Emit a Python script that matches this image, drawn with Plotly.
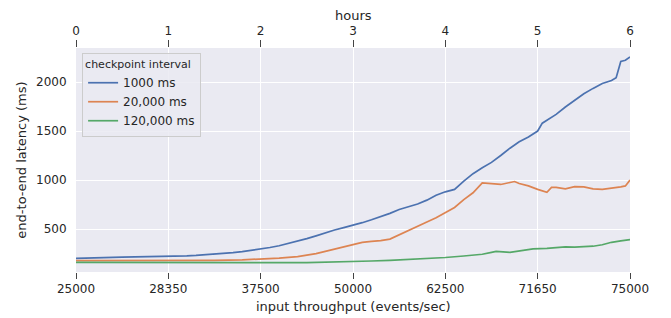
import plotly.graph_objects as go

# ---- data ----
x_tick_hours = [0, 1, 2, 3, 4, 5, 6]
x_tick_labels = ["25000", "28350", "37500", "50000", "62500", "71650", "75000"]

hours_1000 = [0.0, 0.1, 0.2, 0.3, 0.4, 0.5, 0.6, 0.7, 0.8, 0.9, 1.0, 1.1, 1.2, 1.3, 1.4,
              1.5, 1.6, 1.7, 1.8, 1.9, 2.0, 2.1, 2.2, 2.3, 2.4, 2.5, 2.6, 2.7, 2.8, 2.9,
              3.0, 3.1, 3.2, 3.3, 3.4, 3.5, 3.6, 3.7, 3.8, 3.9, 4.0, 4.1, 4.2, 4.3, 4.4,
              4.5, 4.6, 4.7, 4.8, 4.9, 5.0, 5.05, 5.1, 5.2, 5.3, 5.4, 5.5, 5.6, 5.7, 5.8,
              5.85, 5.9, 5.95, 6.0]
lat_1000 = [200, 203, 212, 212, 212, 213, 214, 215, 216, 218, 220, 222, 226, 231, 237,
            244, 252, 260, 270, 282, 295, 312, 330, 352, 378, 402, 430, 462, 490, 515,
            538, 565, 595, 625, 660, 700, 730, 755, 795, 845, 880, 905, 990, 1065, 1125,
            1180, 1250, 1325, 1390, 1440, 1500, 1580, 1610, 1670, 1745, 1810, 1880, 1935, 1985, 2015,
            2045, 2210, 2222, 2255]

hours_20000 = [0.0, 0.5, 1.0, 1.5, 1.8, 2.0, 2.2, 2.4, 2.6, 2.8, 3.0, 3.1, 3.2, 3.3, 3.4,
               3.5, 3.6, 3.7, 3.8, 3.9, 4.0, 4.1, 4.2, 4.3, 4.4, 4.5, 4.6, 4.7, 4.75, 4.8,
               4.9, 5.0, 5.1, 5.15, 5.2, 5.3, 5.4, 5.5, 5.6, 5.7, 5.8, 5.9, 5.95, 6.0]
lat_20000 = [178, 177, 177, 180, 186, 193, 203, 218, 250, 295, 340, 365, 375, 382, 398,
             440, 480, 525, 572, 615, 665, 720, 800, 870, 970, 965, 955, 975, 985, 965,
             940, 905, 875, 925, 925, 910, 932, 930, 910, 905, 915, 930, 940, 1000]

hours_120000 = [0.0, 0.5, 1.0, 1.5, 2.0, 2.5, 2.8, 3.0, 3.2, 3.4, 3.6, 3.8, 4.0, 4.2, 4.4,
                4.5, 4.55, 4.7, 4.8, 4.95, 5.1, 5.2, 5.3, 5.4, 5.5, 5.6, 5.7, 5.8, 5.9, 6.0]
lat_120000 = [160, 158, 157, 156, 157, 158, 162, 167, 174, 181, 190, 199, 210, 225, 243,
              262, 272, 262, 275, 298, 302, 310, 318, 316, 318, 325, 340, 365, 380, 393]

series_names = ["1000 ms", "20,000 ms", "120,000 ms"]
series_colors = ["#4C72B0", "#DD8452", "#55A868"]
series_x = [hours_1000, hours_20000, hours_120000]
series_y = [lat_1000, lat_20000, lat_120000]

FONT = "DejaVu Sans"
TXT = "#262626"

fig = go.Figure()
for name, color, xs, ys in zip(series_names, series_colors, series_x, series_y):
    fig.add_trace(go.Scatter(x=xs, y=ys, mode="lines", name=name,
                             line=dict(color=color, width=1.7)))

# invisible trace for the top (hours) axis
fig.add_trace(go.Scatter(x=[0, 6], y=[None, None], xaxis="x2", mode="lines",
                         showlegend=False, hoverinfo="skip"))

fig.update_layout(
    width=663, height=310,
    margin=dict(l=68, r=41, t=40, b=46),
    paper_bgcolor="white",
    plot_bgcolor="#EAEAF2",
    font=dict(family=FONT, size=12, color=TXT),
    showlegend=True,
    legend=dict(
        title=dict(text="checkpoint interval", font=dict(size=11, color=TXT)),
        x=0.011, y=0.978, xanchor="left", yanchor="top",
        bgcolor="rgba(234,234,242,0.85)",
        bordercolor="#CCCCCC", borderwidth=1,
        font=dict(size=12, color=TXT),
        itemwidth=30,
        tracegroupgap=0,
    ),
    xaxis=dict(
        range=[0, 6], tickmode="array", tickvals=x_tick_hours, ticktext=x_tick_labels,
        showgrid=True, gridcolor="white", gridwidth=1.2, zeroline=False,
        showline=False, ticks="outside", ticklen=6, tickwidth=1.2, tickcolor="#444444",
        ticklabelstandoff=0, automargin=False,
        tickfont=dict(size=12, color=TXT),
    ),
    xaxis2=dict(
        range=[0, 6], overlaying="x", side="top", anchor="y",
        tickmode="array", tickvals=x_tick_hours, ticktext=[str(v) for v in x_tick_hours],
        showgrid=False, zeroline=False, showline=False,
        ticks="outside", ticklen=7, tickwidth=1.2, tickcolor="#444444",
        ticklabelstandoff=0, automargin=False,
        tickfont=dict(size=12, color=TXT),
    ),
    yaxis=dict(
        range=[62, 2347], tickmode="array", tickvals=[500, 1000, 1500, 2000],
        showgrid=True, gridcolor="white", gridwidth=1.2, zeroline=False, showline=False,
        ticks="outside", ticklen=6, tickcolor="rgba(0,0,0,0)", automargin=False,
        tickfont=dict(size=12, color=TXT),
        title=dict(text="end-to-end latency (ms)", font=dict(size=13, color=TXT), standoff=6),
    ),
    annotations=[
        dict(text="hours", xref="paper", yref="paper", x=0.5, y=1.147,
             xanchor="center", yanchor="middle", showarrow=False,
             font=dict(size=13, color=TXT)),
        dict(text="input throughput (events/sec)", xref="paper", yref="paper", x=0.5, y=-0.152,
             xanchor="center", yanchor="middle", showarrow=False,
             font=dict(size=13, color=TXT)),
    ],
)

fig.write_html("out.html")
